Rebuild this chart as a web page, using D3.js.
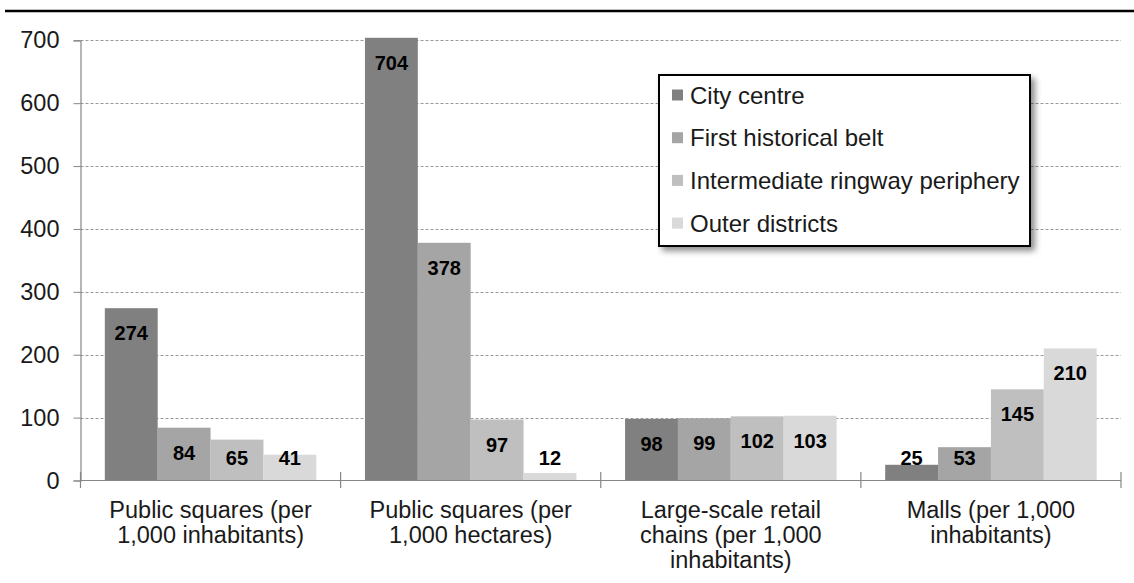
<!DOCTYPE html>
<html>
<head>
<meta charset="utf-8">
<script src="https://cdn.jsdelivr.net/npm/d3@7"></script>
<style>
  html, body { margin: 0; padding: 0; background: #fff; }
  svg { display: block; font-family: "Liberation Sans", Arial, sans-serif; }
</style>
</head>
<body>
<svg id="chart" width="1134" height="583"></svg>
<script>
// Indicators per urban zone
const categories = [
  ["Public squares (per", "1,000 inhabitants)"],
  ["Public squares (per", "1,000 hectares)"],
  ["Large-scale retail", "chains (per 1,000", "inhabitants)"],
  ["Malls (per 1,000", "inhabitants)"]
];
const seriesNames = ["City centre", "First historical belt", "Intermediate ringway periphery", "Outer districts"];
const cityCentre = [274, 704, 98, 25];
const firstBelt = [84, 378, 99, 53];
const intermediate = [65, 97, 102, 145];
const outerDistricts = [41, 12, 103, 210];
const yTicks = [0, 100, 200, 300, 400, 500, 600, 700];
const colors = ["#808080", "#a5a5a5", "#bfbfbf", "#d9d9d9"];

const seriesValues = [cityCentre, firstBelt, intermediate, outerDistricts];
const svg = d3.select("#chart");

// Rule across the top
svg.append("line")
  .attr("x1", 5).attr("x2", 1134).attr("y1", 11).attr("y2", 11)
  .attr("stroke", "#000").attr("stroke-width", 2.5);

const catIdx = d3.range(categories.length);
const x0 = d3.scaleBand().domain(catIdx).range([80.5, 1121]).paddingInner(0).paddingOuter(0);
const x1 = d3.scaleBand().domain(d3.range(seriesNames.length))
  .range([0, x0.bandwidth()]).paddingInner(0).paddingOuter(0.46);
const y = d3.scaleLinear().domain([0, 700]).range([480.5, 40.3]);

// Gridlines
svg.append("g").selectAll("line")
  .data(yTicks.filter(t => t > 0))
  .join("line")
  .attr("x1", 80.5).attr("x2", 1121)
  .attr("y1", d => Math.round(y(d)) + 0.5).attr("y2", d => Math.round(y(d)) + 0.5)
  .attr("stroke", "#9a9a9a").attr("stroke-width", 1)
  .attr("stroke-dasharray", "3,2");

// Y axis
const yAxis = svg.append("g")
  .attr("transform", "translate(80.5,0)")
  .call(d3.axisLeft(y).tickValues(yTicks).tickSize(7).tickPadding(14).tickFormat(d3.format("d")));
yAxis.select(".domain").attr("stroke", "#868686").attr("stroke-width", 1.2);
yAxis.selectAll(".tick line").attr("stroke", "#868686");
yAxis.selectAll(".tick text")
  .attr("font-size", 23.5).attr("fill", "#1a1a1a")
  .attr("font-family", "'Liberation Sans', Arial, sans-serif");

// Bars
const groups = svg.append("g").selectAll("g")
  .data(catIdx)
  .join("g")
  .attr("transform", c => `translate(${x0(c)},0)`);

groups.selectAll("rect")
  .data(c => seriesValues.map((vals, s) => ({ s, v: vals[c] })))
  .join("rect")
  .attr("x", d => x1(d.s))
  .attr("width", x1.bandwidth())
  .attr("y", d => y(d.v))
  .attr("height", d => y(0) - y(d.v))
  .attr("fill", d => colors[d.s]);

// Value labels
groups.selectAll("text")
  .data(c => seriesValues.map((vals, s) => ({ s, v: vals[c] })))
  .join("text")
  .attr("x", d => x1(d.s) + x1.bandwidth() / 2)
  .attr("y", d => Math.min(y(d.v) + 32, 464.5))
  .attr("text-anchor", "middle")
  .attr("font-size", 20).attr("font-weight", "bold").attr("fill", "#000")
  .text(d => d.v);

// X axis
const xAxisG = svg.append("g");
xAxisG.append("line")
  .attr("x1", 80.5).attr("x2", 1121).attr("y1", 480.5).attr("y2", 480.5)
  .attr("stroke", "#868686").attr("stroke-width", 1.2);
xAxisG.selectAll("line.tick")
  .data(catIdx.concat([categories.length]))
  .join("line").attr("class", "tick")
  .attr("x1", c => c < categories.length ? x0(c) : x0.range()[1])
  .attr("x2", c => c < categories.length ? x0(c) : x0.range()[1])
  .attr("y1", 472).attr("y2", 488)
  .attr("stroke", "#868686").attr("stroke-width", 1.2);

xAxisG.selectAll("text.cat")
  .data(catIdx)
  .join("text").attr("class", "cat")
  .attr("x", c => x0(c) + x0.bandwidth() / 2)
  .attr("y", 518)
  .attr("text-anchor", "middle")
  .attr("font-size", 23.5).attr("fill", "#1a1a1a")
  .selectAll("tspan")
  .data(c => categories[c])
  .join("tspan")
  .attr("x", function() { return d3.select(this.parentNode).attr("x"); })
  .attr("dy", (d, i) => i === 0 ? 0 : 25)
  .text(d => d);

// Legend
const defs = svg.append("defs");
const shadow = defs.append("filter").attr("id", "legendShadow")
  .attr("x", "-10%").attr("y", "-10%").attr("width", "130%").attr("height", "130%");
shadow.append("feDropShadow")
  .attr("dx", 4).attr("dy", 4).attr("stdDeviation", 3)
  .attr("flood-color", "#000").attr("flood-opacity", 0.45);

const legend = svg.append("g").attr("transform", "translate(659,75)");
legend.append("rect")
  .attr("width", 371).attr("height", 171)
  .attr("fill", "#fff").attr("stroke", "#000").attr("stroke-width", 2)
  .attr("filter", "url(#legendShadow)");

const items = legend.selectAll("g.item")
  .data(seriesNames)
  .join("g").attr("class", "item")
  .attr("transform", (d, i) => `translate(0,${20 + i * 42.7})`);
items.append("rect")
  .attr("x", 13).attr("y", -5.5).attr("width", 11).attr("height", 11)
  .attr("fill", (d, i) => colors[i]);
items.append("text")
  .attr("x", 31).attr("y", 8.5)
  .attr("font-size", 24).attr("fill", "#1a1a1a")
  .text(d => d);
</script>
</body>
</html>
